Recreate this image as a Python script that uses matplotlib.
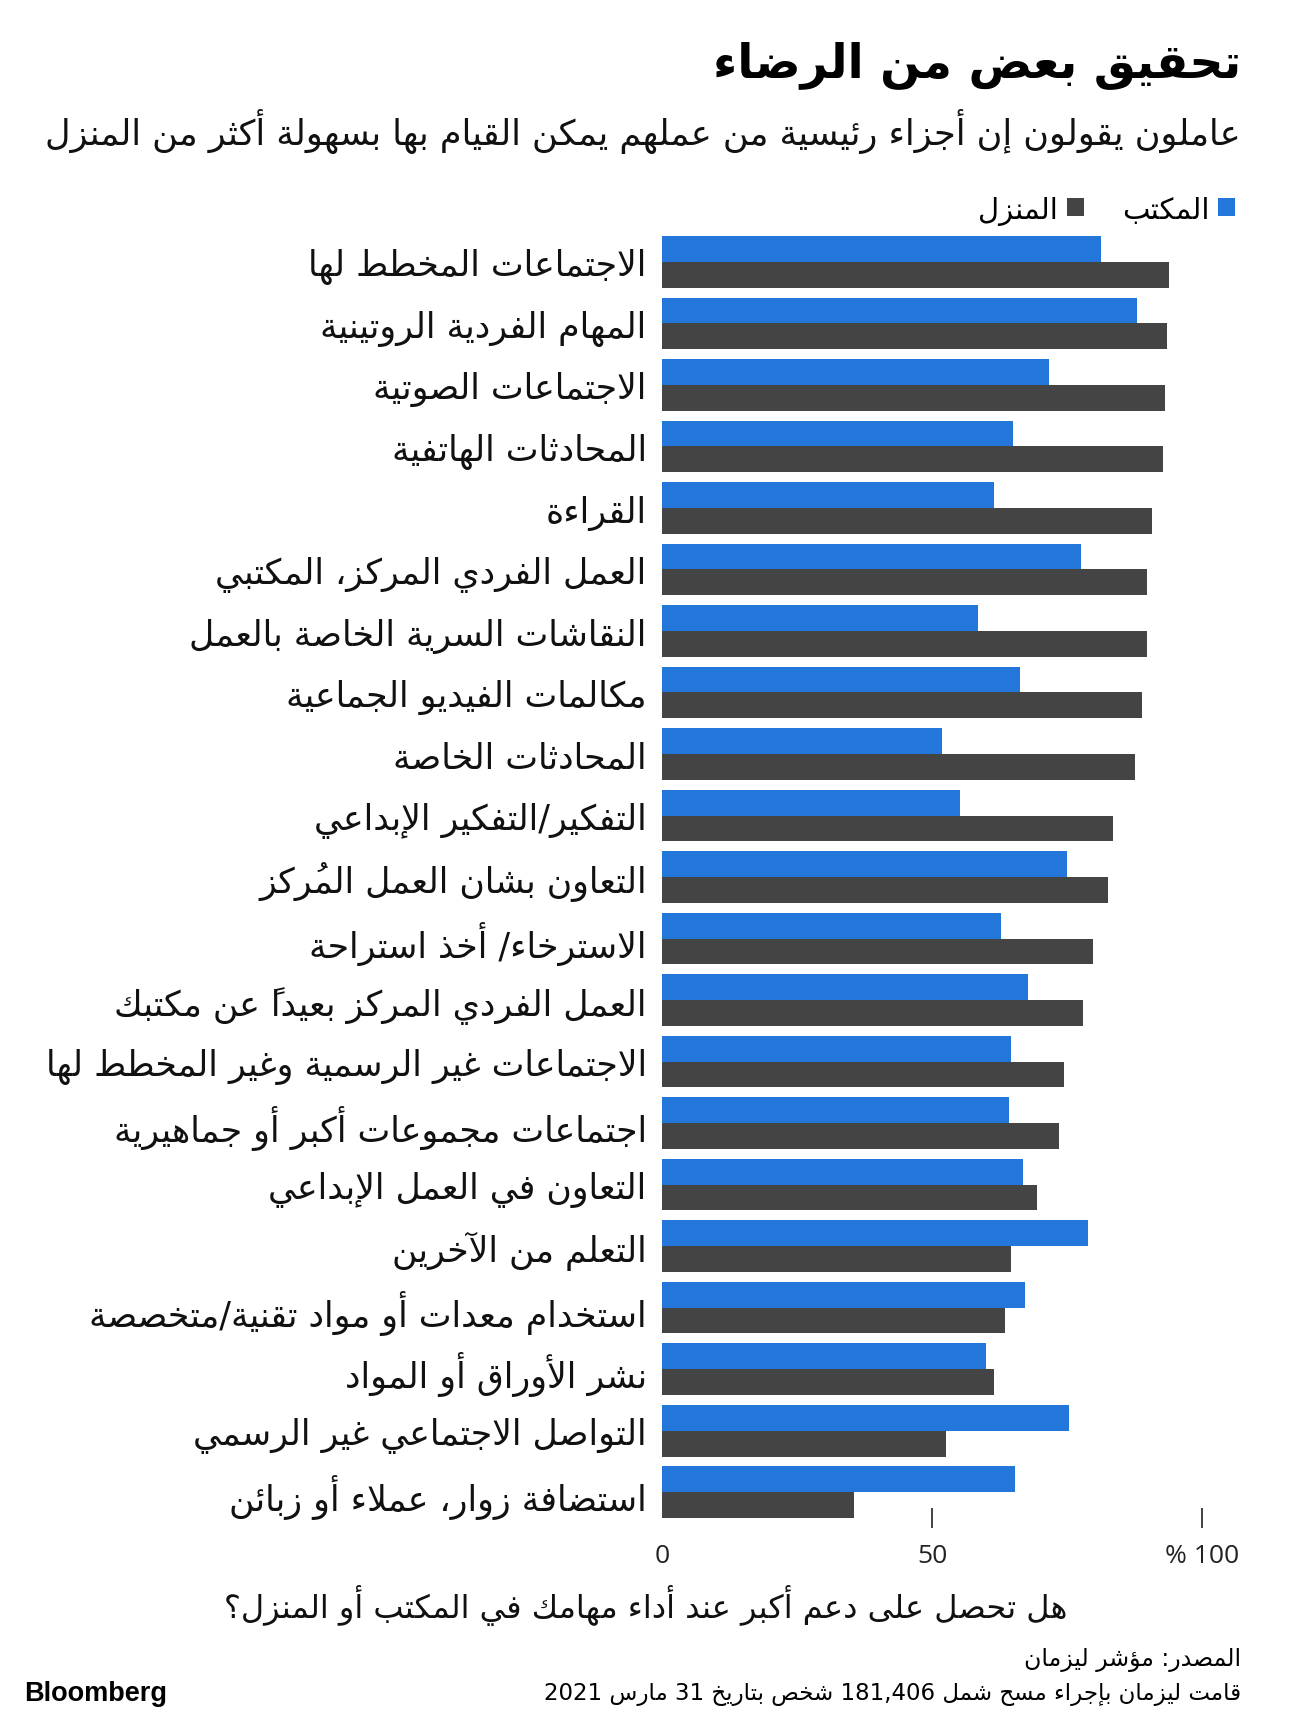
import re
import numpy as np
import matplotlib
matplotlib.use('Agg')
import matplotlib.pyplot as plt

# --- tiny arabic shaper (matplotlib does not shape / reorder arabic) ---
_right = {'\u0622': 0xFE81, '\u0623': 0xFE83, '\u0624': 0xFE85, '\u0625': 0xFE87,
          '\u0627': 0xFE8D, '\u0629': 0xFE93, '\u062F': 0xFEA9, '\u0630': 0xFEAB,
          '\u0631': 0xFEAD, '\u0632': 0xFEAF, '\u0648': 0xFEED, '\u0649': 0xFEEF}
_dual = {'\u0626': 0xFE89, '\u0628': 0xFE8F, '\u062A': 0xFE95, '\u062B': 0xFE99,
         '\u062C': 0xFE9D, '\u062D': 0xFEA1, '\u062E': 0xFEA5, '\u0633': 0xFEB1,
         '\u0634': 0xFEB5, '\u0635': 0xFEB9, '\u0636': 0xFEBD, '\u0637': 0xFEC1,
         '\u0638': 0xFEC5, '\u0639': 0xFEC9, '\u063A': 0xFECD, '\u0641': 0xFED1,
         '\u0642': 0xFED5, '\u0643': 0xFED9, '\u0644': 0xFEDD, '\u0645': 0xFEE1,
         '\u0646': 0xFEE5, '\u0647': 0xFEE9, '\u064A': 0xFEF1}
_lamalef = {'\u0622': 0xFEF5, '\u0623': 0xFEF7, '\u0625': 0xFEF9, '\u0627': 0xFEFB}


def _mark(c):
    return '\u064B' <= c <= '\u0652'


def ar(s):
    n = len(s)

    def nxt(i):
        j = i + 1
        while j < n and _mark(s[j]):
            j += 1
        return j

    def prv(i):
        j = i - 1
        while j >= 0 and _mark(s[j]):
            j -= 1
        return s[j] if j >= 0 else None

    clusters = []
    i = 0
    while i < n:
        c = s[i]
        if _mark(c):
            # put the mark in front of its base so it lands on top of it
            if clusters:
                clusters[-1] = c + clusters[-1]
            else:
                clusters.append(c)
            i += 1
            continue
        p = prv(i)
        jn = nxt(i)
        q = s[jn] if jn < n else None
        cp = p in _dual
        if c == '\u0644' and q in _lamalef:
            clusters.append(chr(_lamalef[q] + (1 if cp else 0)))
            i = jn + 1
            continue
        if c in _dual:
            cn = q in _dual or q in _right
            if cp and cn:
                g = _dual[c] + 3
            elif cp:
                g = _dual[c] + 1
            elif cn:
                g = _dual[c] + 2
            else:
                g = _dual[c]
            clusters.append(chr(g))
        elif c in _right:
            clusters.append(chr(_right[c] + (1 if cp else 0)))
        elif c == '\u0621':
            clusters.append('\uFE80')
        else:
            clusters.append(c)
        i += 1
    vis = ''.join(clusters[::-1])
    vis = re.sub(r'[0-9][0-9,.]*[0-9]|[0-9]', lambda m: m.group(0)[::-1], vis)
    return vis


# --- data ---
categories = ['الاجتماعات المخطط لها', 'المهام الفردية الروتينية', 'الاجتماعات الصوتية',
              'المحادثات الهاتفية', 'القراءة', 'العمل الفردي المركز، المكتبي',
              'النقاشات السرية الخاصة بالعمل', 'مكالمات الفيديو الجماعية', 'المحادثات الخاصة',
              'التفكير/التفكير الإبداعي', 'التعاون بشان العمل المُركز', 'الاسترخاء/ أخذ استراحة',
              'العمل الفردي المركز بعيداً عن مكتبك', 'الاجتماعات غير الرسمية وغير المخطط لها',
              'اجتماعات مجموعات أكبر أو جماهيرية', 'التعاون في العمل الإبداعي', 'التعلم من الآخرين',
              'استخدام معدات أو مواد تقنية/متخصصة', 'نشر الأوراق أو المواد',
              'التواصل الاجتماعي غير الرسمي', 'استضافة زوار، عملاء أو زبائن']
office = [81.3, 88.0, 71.7, 65.0, 61.4, 77.6, 58.5, 66.3, 51.8, 55.1, 75.0,
          62.8, 67.7, 64.6, 64.2, 66.9, 78.9, 67.3, 60.0, 75.4, 65.4]
home = [93.9, 93.5, 93.1, 92.7, 90.7, 89.8, 89.8, 88.8, 87.6, 83.5, 82.5,
        79.9, 78.0, 74.4, 73.6, 69.5, 64.6, 63.6, 61.4, 52.6, 35.6]
xticks = [0, 50, 100]
xticklabels = ['0', '50', '% 100']

title = 'تحقيق بعض من الرضاء'
subtitle = 'عاملون يقولون إن أجزاء رئيسية من عملهم يمكن القيام بها بسهولة أكثر من المنزل'
legend_office = 'المكتب'
legend_home = 'المنزل'
xlabel = 'هل تحصل على دعم أكبر عند أداء مهامك في المكتب أو المنزل؟'
source = 'المصدر: مؤشر ليزمان'
note = 'قامت ليزمان بإجراء مسح شمل 181,406 شخص بتاريخ 31 مارس 2021'

BLUE = '#2477DA'
GREY = '#444444'

plt.rcParams['font.family'] = ['DejaVu Sans']

fig = plt.figure(figsize=(12.96, 17.24), dpi=100)
ax = fig.add_axes([0.5108, 0.1189, 0.4167, 0.7436])

y = np.arange(len(categories))
h = 0.42
b1 = ax.barh(y - h / 2, office, height=h, color=BLUE, linewidth=0)
b2 = ax.barh(y + h / 2, home, height=h, color=GREY, linewidth=0)

ax.set_xlim(0, 100)
ax.set_ylim(len(categories) - 1 + h, -h)
for s in ax.spines.values():
    s.set_visible(False)

ax.set_yticks(y)
ax.set_yticklabels([ar(c) for c in categories], fontsize=25, color='#111111')
ax.tick_params(axis='y', length=0, pad=11)
ax.set_xticks(xticks)
ax.set_xticklabels(xticklabels, fontsize=19, family='Open Sans', color='#222222')
ax.tick_params(axis='x', length=14, direction='inout', width=1.2, color='#222222', pad=11)
ax.xaxis.get_major_ticks()[0].tick1line.set_visible(False)

fig.text(0.9576, 0.9625, ar(title), ha='right', va='center', fontsize=34, fontweight='bold')
fig.text(0.9576, 0.9235, ar(subtitle), ha='right', va='center', fontsize=25.3, color='#111111')

leg = fig.legend([b2, b1], [ar(legend_home), ar(legend_office)], ncol=2, markerfirst=False,
                 loc='center right', bbox_to_anchor=(0.962, 0.8775), frameon=False,
                 fontsize=21, handlelength=0.58, handleheight=0.58, handletextpad=0.3,
                 columnspacing=1.3, borderaxespad=0)

fig.text(0.4985, 0.069, ar(xlabel), ha='center', va='center', fontsize=23, color='#111111')
fig.text(0.9576, 0.0371, ar(source), ha='right', va='center', fontsize=17)
fig.text(0.9576, 0.0174, ar(note), ha='right', va='center', fontsize=16.5)
fig.text(0.0185, 0.0174, 'Bloomberg', ha='left', va='center', fontsize=19.5,
         fontweight='bold', family='Liberation Sans')

plt.savefig('out.png', dpi=100)
